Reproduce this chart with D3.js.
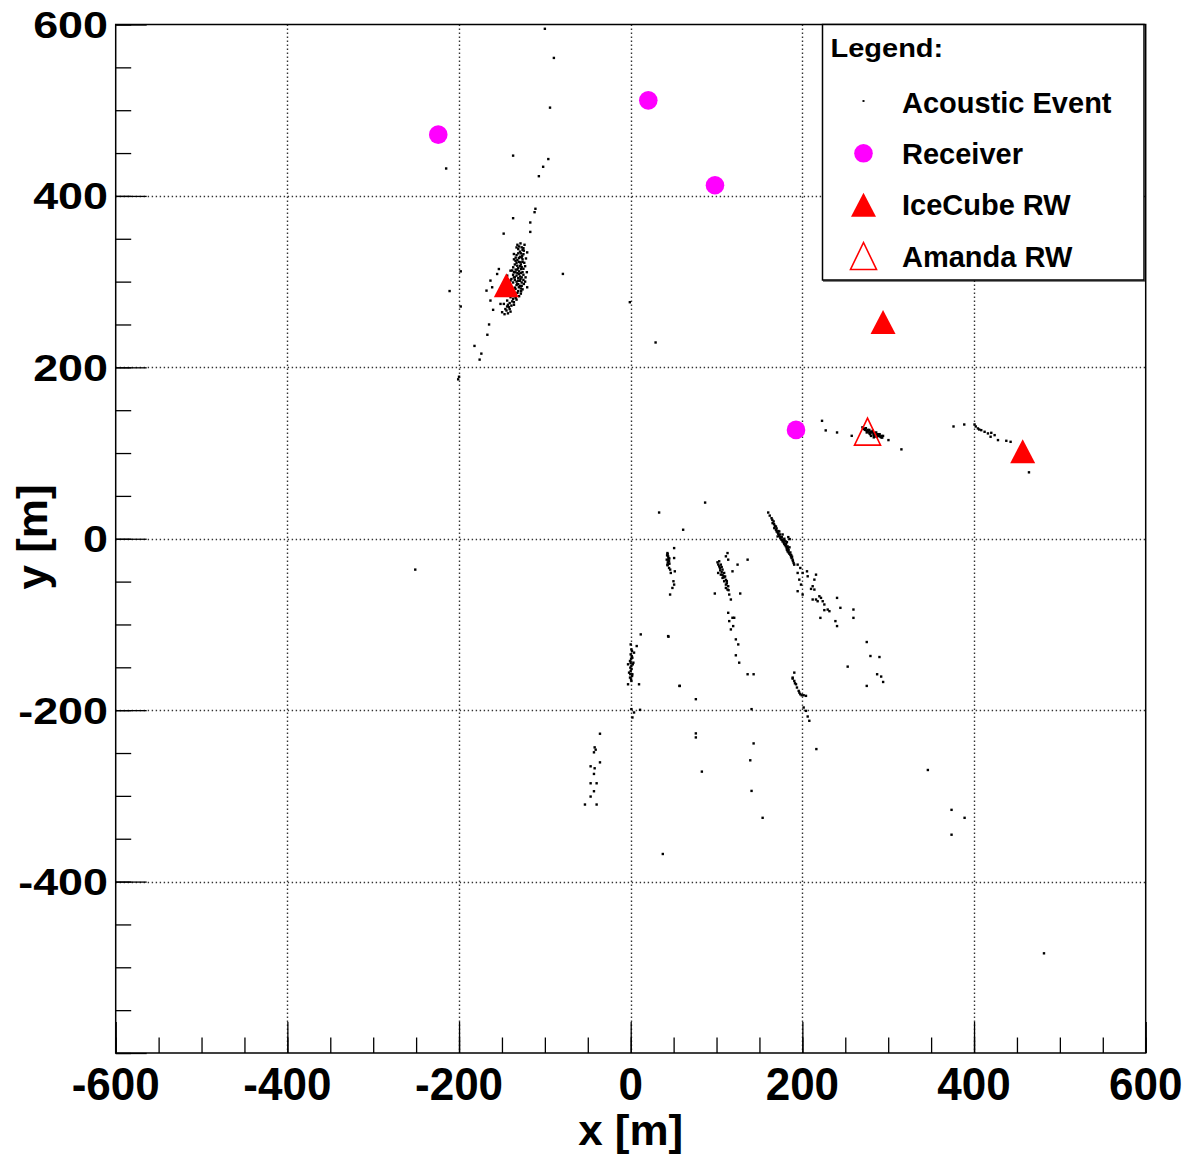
<!DOCTYPE html>
<html><head><meta charset="utf-8">
<script src="https://cdn.jsdelivr.net/npm/d3@7"></script>
<style>
body{margin:0;background:#fff}
svg{display:block}
text{font-family:"Liberation Sans",Arial,Helvetica,sans-serif;font-weight:bold;fill:#000}
</style>
</head><body>
<svg id="c" width="1184" height="1159"></svg>
<script>
// ---------- data ----------
const xTicks = [-600, -400, -200, 0, 200, 400, 600];
const yTicks = [600, 400, 200, 0, -200, -400];
const xTitle = "x [m]";
const yTitle = "y [m]";
const legendTitle = "Legend:";
const legendLabels = ["Acoustic Event", "Receiver", "IceCube RW", "Amanda RW"];

const receivers = [[-224.2, 471.5], [20.5, 511.5], [98.2, 412.4], [192.6, 127.0]];
const icecubeRW = [[-144.9, 295.9], [294.0, 252.8], [456.7, 102.2]];
const amandaRW = [[275.9, 125.0]];

const eventsScattered = [
  [-100,595],[-89.5,561],[-94,503],[-137,447],[-96,443],[-102,434],[-107,423],[-215,432],
  [-111,385],[-112,381],[-137,374],[-117,369],[-117,358],[-148,356],[-79,309],[-211,289],
  [-198,312],[-198,271],[-165,250],[-167,238],[-182,225],[-174,216],[-176,209],[-200,189],
  [-201,186],[-1,276],[29,229],[-251,-36]
];
const eventsCluster1 = [
  [-128.4,344.6],[-123.7,343.0],[-133.0,339.9],[-124.5,336.1],[-120.6,334.1],[-136.1,332.2],
  [-126.4,330.2],[-130.3,327.5],[-134.2,324.4],[-128.4,322.5],[-132.2,318.6],[-136.9,316.7],
  [-127.6,314.7],[-140.0,312.8],[-134.2,310.9],[-130.3,308.9],[-143.9,307.0],[-136.1,305.0],
  [-128.4,303.1],[-140.0,301.2],[-122.5,305.0],[-132.2,297.3],[-142.0,295.4],[-134.2,291.5],
  [-138.1,287.6],[-130.3,293.4],[-145.9,285.7],[-140.0,281.8],[-143.9,277.9],[-136.1,276.0],
  [-147.8,274.0],[-142.0,270.2],[-149.8,264.3],[-144.7,266.3],[-153.6,314.7],[-155.6,308.9],
  [-163.4,301.2],[-161.4,293.4],[-168.0,289.5],[-163.4,277.9],[-160.3,267.1],[-151.7,274.0],
  [-124.5,297.3],[-120.6,293.4],[-127.6,288.8],
  [-131,338],[-127,340],[-129,335],[-125,332],[-133,331],[-129,329],[-126,326],[-132,325],
  [-128,320],[-124,322],[-135,320],[-131,316],[-127,317],[-123,318],[-138,313],[-134,314],
  [-130,312],[-126,311],[-137,308],[-133,307],[-129,306],[-125,308],[-139,303],[-135,302],
  [-131,301],[-127,299],[-123,300],[-133,296],[-129,295],[-126,291],[-131,289],[-134,284],
  [-130,283],[-137,280],[-133,279],[-139,272],[-143,273],[-146,268],[-141,268],[-135,283],
  [-121,311],[-126,337],[-132,343],[-136,326],[-122,327],
  [-130,341],[-125,339],[-128,333],[-131,333],[-127,328],[-134,328],[-130,323],[-126,323],
  [-133,322],[-129,318],[-125,315],[-132,314],[-136,311],[-128,310],[-132,310],[-135,305],
  [-131,304],[-127,305],[-137,299],[-133,300],[-129,301],[-125,302],[-131,297],[-127,295],
  [-135,293],[-128,292],[-132,287],[-128,286],[-136,286],[-134,281],[-138,277],[-141,275],
  [-136,273],[-144,271],[-140,265],[-147,262],[-143,263]
];
const eventsAmanda = [
  [222.9,137.6],[227.2,126.4],[240.4,124.0],[257.5,120.1],[283.2,118.3],[291.7,118.3],
  [300.3,115.1],[315.4,104.3],
  [271,129],[273,127],[275,126],[277,125],[279,124],[281,124],[283,123],[285,122],[287,121],
  [289,120],[291,119],[293,118],[275,124],[279,122],[283,121],[287,119],[270,130],[274,129],
  [278,127],[282,126],[286,124],[290,122],[294,120],[280,120],[284,119],
  [272,128],[276,127],[280,125],[284,123],[288,122],[292,120],[278,123],[286,121]
];
const eventsEast = [
  [376.1,131.0],[388.6,133.3],[400.6,133.3],[404.5,128.7],[408.4,126.7],[412.3,124.8],
  [416.2,122.9],[420.1,123.6],[424.0,120.9],[427.9,115.1],[437.6,114.3],[442.6,113.1],
  [419.3,119.0],[406,127.5],[402,131],[464.0,77.5]
];
const eventsStreak180 = [
  [160.2,30.6],[164.1,24.0],[166.5,20.2],[168.0,15.1],[169.2,10.5],[171.1,7.4],[173.0,3.5],
  [175.0,1.9],[176.9,-3.1],[178.8,-5.8],[180.8,-8.9],[182.0,-12.8],[183.9,-15.9],[185.9,-18.6],
  [187.4,-22.5],[189.8,-28.3],[190.5,-30.2],[167.3,12.4],[170.0,8.5],[171.9,5.8],[174.3,0.8],
  [175.8,-1.2],[178.2,-4.3],[179.7,-7.4],[181.7,-10.9],[182.8,-14.7],[184.8,-17.4],[186.7,-20.5],
  [188.7,-24.4],[180.5,-3.1],[182.8,-8.9],[173.1,8.5],[169.2,14.3],[183.6,1.9],[185.2,-0.4],
  [165.3,18.2],[171.2,2.7],
  [162,27],[165,22],[167,17],[170,12],[172,9],[174,5],[176,2],[177,-1],[179,-2],[181,-6],
  [182,-4],[183,-11],[184,-13],[186,-16],[187,-19],[188,-21],[189,-26],[177,5],[179,0],[185,-10],
  [194.5,-30.2],[197.6,-34.1],[194.5,-39.9],[200.3,-39.9],[196.4,-47.7],[198.4,-53.5],
  [194.5,-61.2],[200.3,-65.1],[205.4,-38.0],[206.2,-43.8],[215.9,-41.9],[214.0,-47.7],
  [212.0,-55.4],[214.0,-59.3],[210.1,-58.5],[212.0,-70.9],[215.9,-70.9],[217.8,-72.9],
  [219.8,-67.1],[221.7,-69.0],[223.7,-72.9],[225.6,-76.7],[229.5,-82.6],[231.5,-84.5],
  [225.6,-83.3],[240.4,-69.0],[244.3,-80.6],[259.5,-82.6],[259.5,-92.3],[238.5,-96.1],
  [240.4,-101.9],[221.0,-92.3],[275.0,-120.5],[279.3,-136.8],[289.8,-138.0],[252.8,-149.2],
  [287.1,-158.1],[291.8,-160.8],[294.1,-167.1],[275.0,-171.7],
  [190.6,-156.2],[188.7,-162.0],[190.6,-165.9],[192.6,-169.8],[193.7,-173.6],[195.7,-177.5],
  [197.6,-181.4],[201.5,-182.6],[188.7,-163.2],[191.4,-168.6],[196.5,-179.5],[199.2,-182.6],
  [204.2,-183.3],[201.5,-196.9],[204.2,-200.8],[206.2,-207.4],[208.1,-212.4],[216.3,-245.4]
];
const eventsStreak110 = [
  [101.1,-27.5],[103.1,-32.2],[104.3,-36.8],[101.9,-39.9],[105.0,-41.9],[107.0,-45.7],
  [108.9,-49.6],[110.9,-53.5],[112.8,-59.3],[114.8,-65.1],[116.7,-70.9],[105.0,-30.2],
  [107.0,-36.0],[108.9,-39.9],[108.1,-43.8],[112.0,-49.6],[113.6,-55.4],[110.9,-57.4],
  [112.8,-16.7],[110.9,-20.5],[113.6,-24.4],[118.6,-38.0],[124.5,-30.2],[136.2,-24.4],
  [127.6,-63.9],[98.0,-63.9],[103.1,-26.3],
  [102,-30],[104,-34],[106,-39],[109,-45],[111,-48],[112,-52],[107,-42],[110,-44],[114,-60],[106,-33],
  [113.6,-86.4],[118.6,-92.2],[114.8,-96.1],[116.7,-105.8],[122.5,-117.4],[125.3,-123.3],
  [122.5,-136.0],[126.4,-144.6],[136.2,-158.1],[143.2,-158.1],[119.4,-101.9],[120.6,-92.2]
];
const eventsStreak45 = [
  [42.8,-16.7],[43.6,-20.5],[42.0,-24.4],[44.7,-26.3],[42.8,-30.2],[44.7,-34.1],[46.7,-39.9],
  [50.6,-22.5],[51.4,-38.0],[49.8,-49.6],[50.6,-53.5],[48.6,-57.4],[45.9,-65.1],[50.6,-10.9],
  [44.0,-22.5],[43.2,-27.5],[45.1,-29.1],[42.4,-19.4],
  [43,-18],[44,-25],[45,-23],[43,-31],[44,-29],[46,-36],
  [33.1,30.6],[61.1,10.5],[86.7,42.2],[44.0,-114.3],[56.8,-171.7],[11.7,-111.6]
];
const eventsStreak0 = [
  [0,-123.3],[0.8,-129.1],[0,-134.9],[1.9,-138.8],[-0.8,-142.6],[3.1,-144.6],[0.8,-148.4],
  [0,-154.3],[1.9,-158.1],[-0.8,-162.0],[0.8,-165.9],[-3.1,-169.8],[9.7,-169.8],[7.0,-125.2],
  [-3.1,-146.5],[-1.9,-156.2],[3.9,-132.9],[1.2,-136.8],[2.4,-146.5],[-0.4,-150.4],
  [1.6,-160.1],[0.4,-164.0],[0.5,-140],[1,-152],[0,-145],[-0.5,-158],[1.5,-131],
  [3.9,-202.7],[2.0,-208.5],[10.9,-199.6],[0.8,-198.8]
];
const eventsSouth = [
  [-35.8,-227.5],[-42.0,-243.4],[-40.8,-246.1],[-42.8,-249.2],[-35.8,-260.9],[-46.7,-265.5],
  [-42.0,-267.8],[-42.8,-274.4],[-46.7,-285.3],[-39.7,-285.3],[-42.8,-294.6],[-46.7,-300.8],
  [-53.3,-310.1],[-39.7,-310.1],
  [43.6,-113.6],[57.2,-171.7],[75.9,-187.2],[75.9,-227.1],[75.9,-231.8],[82.9,-271.7],
  [140.8,-198.8],[143.2,-238.8],[139.3,-258.5],[140.8,-294.2],[153.7,-325.6],[37.4,-367.8],
  [346.2,-269.8],[373.8,-316.3],[389.0,-325.6],[373.8,-345.3],[481.5,-483.7]
];

const acousticEvents = [].concat(eventsScattered, eventsCluster1, eventsAmanda, eventsEast,
  eventsStreak180, eventsStreak110, eventsStreak45, eventsStreak0, eventsSouth);

// ---------- drawing ----------
const svg = d3.select("#c");
svg.append("rect").attr("width",1184).attr("height",1159).attr("fill","#fff");

const x = d3.scaleLinear().domain([-600, 600]).range([115.7, 1145.7]);
const y = d3.scaleLinear().domain([-600, 600]).range([1053, 24.5]);

// grid
const grid = svg.append("g").attr("stroke","#333").attr("stroke-width",1.4).attr("stroke-dasharray","1.4,2.6");
grid.selectAll("line.gx").data(xTicks.filter(v => v > -600 && v < 600)).join("line")
  .attr("x1", d => Math.round(x(d)) + 0.5).attr("x2", d => Math.round(x(d)) + 0.5)
  .attr("y1", y(600)).attr("y2", y(-600));
grid.selectAll("line.gy").data(yTicks.filter(v => v > -600 && v < 600)).join("line")
  .attr("y1", d => Math.round(y(d)) + 0.5).attr("y2", d => Math.round(y(d)) + 0.5)
  .attr("x1", x(-600)).attr("x2", x(600));

// axes ticks (inward)
const minorX = d3.range(-600, 601, 50);
const minorY = d3.range(-600, 601, 50);
const axX = svg.append("g").attr("transform", `translate(0,${y(-600)})`);
axX.call(d3.axisBottom(x).tickValues(minorX).tickSize(-15.5).tickSizeOuter(0).tickFormat(""));
const axX2 = svg.append("g").attr("transform", `translate(0,${y(-600)})`);
axX2.call(d3.axisBottom(x).tickValues(xTicks).tickSize(-31).tickSizeOuter(0).tickFormat(""));
const axY = svg.append("g").attr("transform", `translate(${x(-600)},0)`);
axY.call(d3.axisLeft(y).tickValues(minorY).tickSize(-15.5).tickSizeOuter(0).tickFormat(""));
const axY2 = svg.append("g").attr("transform", `translate(${x(-600)},0)`);
axY2.call(d3.axisLeft(y).tickValues([600,400,200,0,-200,-400,-600]).tickSize(-31).tickSizeOuter(0).tickFormat(""));
svg.selectAll(".domain").remove();
svg.selectAll(".tick line").attr("stroke","#000").attr("stroke-width",1.3);

// events
svg.append("g").selectAll("rect").data(acousticEvents).join("rect")
  .attr("x", d => x(d[0]) - 1.2).attr("y", d => y(d[1]) - 1.2)
  .attr("width", 2.4).attr("height", 2.4).attr("fill", "#000");

// frame
svg.append("rect").attr("x", x(-600)).attr("y", y(600))
  .attr("width", x(600) - x(-600)).attr("height", y(-600) - y(600))
  .attr("fill","none").attr("stroke","#000").attr("stroke-width",1.5);

// markers
function triPath(cx, cy, w, h) {
  return `M${cx},${cy - h/2}L${cx + w/2},${cy + h/2}L${cx - w/2},${cy + h/2}Z`;
}
svg.append("g").selectAll("circle").data(receivers).join("circle")
  .attr("cx", d => x(d[0])).attr("cy", d => y(d[1])).attr("r", 9.3).attr("fill","#ff00ff");
svg.append("g").selectAll("path").data(icecubeRW).join("path")
  .attr("d", d => triPath(x(d[0]), y(d[1]), 25, 24)).attr("fill","#ff0000");
svg.append("g").selectAll("path").data(amandaRW).join("path")
  .attr("d", d => triPath(x(d[0]), y(d[1]), 26, 27)).attr("fill","none")
  .attr("stroke","#ff0000").attr("stroke-width",1.6);

// tick labels
function stext(g, tx, ty, str, size, sx, sy, anchor, rot) {
  return g.append("text")
    .attr("transform", `translate(${tx},${ty})${rot ? ` rotate(${rot})` : ""} scale(${sx},${sy})`)
    .attr("text-anchor", anchor).style("font-size", size + "px").text(str);
}
const lab = svg.append("g");
xTicks.forEach(v => stext(lab, x(v), 1100, String(v), 44, 1, 1.05, "middle"));
yTicks.forEach(v => stext(lab, 108, y(v) + 13.5, String(v), 44, 1.02, 0.86, "end"));

// axis titles
stext(lab, 630.7, 1145, xTitle, 44, 1, 0.95, "middle");
stext(lab, 47, 537, yTitle, 44, 1, 0.95, "middle", -90);

// legend
const lg = svg.append("g");
lg.append("rect").attr("x", 822.5).attr("y", 24.5).attr("width", 321.5).attr("height", 255.5)
  .attr("fill","#fff").attr("stroke","#000").attr("stroke-width",1.5);
lg.append("line").attr("x1", 823).attr("x2", 1145).attr("y1", 281).attr("y2", 281)
  .attr("stroke","#000").attr("stroke-width",1.2);
stext(lg, 830.5, 56.7, legendTitle, 29, 1, 0.88, "start");
const rowY = [112.7, 164, 215.3, 266.7];
legendLabels.forEach((t, i) => stext(lg, 902, rowY[i], t, 29, 1, 1, "start"));
const mx = 863.5;
lg.append("rect").attr("x", mx - 1).attr("y", 101 - 1).attr("width", 2).attr("height", 2).attr("fill","#111");
lg.append("circle").attr("cx", mx).attr("cy", 153.3).attr("r", 9.3).attr("fill","#ff00ff");
lg.append("path").attr("d", triPath(mx, 204.7, 25, 24)).attr("fill","#ff0000");
lg.append("path").attr("d", triPath(mx, 256, 26, 27)).attr("fill","none")
  .attr("stroke","#ff0000").attr("stroke-width",1.6);
</script>
</body></html>
